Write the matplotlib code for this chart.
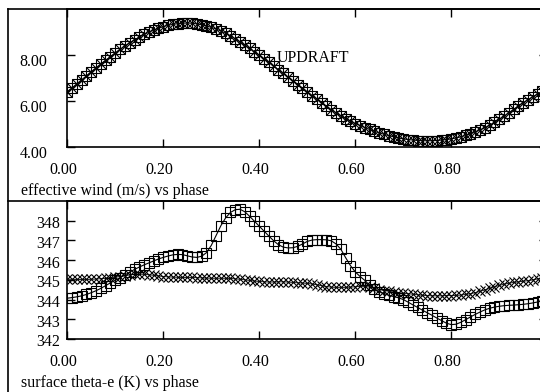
import matplotlib
matplotlib.use("Agg")
import matplotlib.pyplot as plt
from matplotlib.lines import Line2D
from matplotlib.transforms import ScaledTranslation

# phase (0.00 .. 0.99)
phase = [i / 100 for i in range(100)]

# effective wind (m/s), updraft
wind = [6.40, 6.57, 6.74, 6.92, 7.09, 7.27, 7.44, 7.61, 7.77, 7.93,
        8.09, 8.24, 8.39, 8.53, 8.66, 8.78, 8.89, 8.99, 9.08, 9.16,
        9.23, 9.29, 9.33, 9.36, 9.38, 9.39, 9.38, 9.35, 9.31, 9.26,
        9.20, 9.13, 9.04, 8.94, 8.83, 8.70, 8.56, 8.42, 8.28, 8.13,
        7.98, 7.83, 7.67, 7.51, 7.35, 7.19, 7.03, 6.87, 6.71, 6.55,
        6.39, 6.23, 6.07, 5.91, 5.76, 5.61, 5.47, 5.34, 5.22, 5.11,
        5.01, 4.92, 4.83, 4.75, 4.67, 4.60, 4.54, 4.48, 4.43, 4.38,
        4.34, 4.31, 4.29, 4.27, 4.26, 4.26, 4.26, 4.27, 4.29, 4.31,
        4.34, 4.38, 4.43, 4.49, 4.56, 4.64, 4.73, 4.83, 4.94, 5.06,
        5.19, 5.33, 5.48, 5.63, 5.78, 5.92, 6.05, 6.18, 6.30, 6.42]

# surface theta-e (K), square series
theta_sq = [344.07, 344.10, 344.14, 344.19, 344.26, 344.35, 344.45, 344.57, 344.71, 344.85,
            344.98, 345.11, 345.25, 345.39, 345.53, 345.65, 345.76, 345.86, 345.96, 346.06,
            346.14, 346.21, 346.27, 346.29, 346.28, 346.22, 346.16, 346.14, 346.20, 346.38,
            346.75, 347.25, 347.75, 348.15, 348.42, 348.56, 348.58, 348.45, 348.22, 347.97,
            347.72, 347.47, 347.22, 346.98, 346.78, 346.66, 346.62, 346.63, 346.70, 346.82,
            346.95, 347.02, 347.04, 347.04, 347.03, 346.98, 346.82, 346.55, 346.12, 345.72,
            345.40, 345.17, 344.97, 344.72, 344.53, 344.40, 344.30, 344.22, 344.15, 344.09,
            344.00, 343.87, 343.73, 343.60, 343.46, 343.33, 343.20, 343.06, 342.93, 342.80,
            342.73, 342.75, 342.85, 342.98, 343.12, 343.25, 343.37, 343.48, 343.56, 343.62,
            343.66, 343.69, 343.71, 343.72, 343.74, 343.76, 343.79, 343.83, 343.88, 343.93]

# surface theta-e (K), cross series
theta_x = [345.03, 345.03, 345.02, 345.02, 345.02, 345.03, 345.04, 345.06, 345.08, 345.10,
           345.13, 345.17, 345.21, 345.25, 345.28, 345.29, 345.28, 345.26, 345.23, 345.20,
           345.17, 345.15, 345.14, 345.13, 345.12, 345.12, 345.12, 345.11, 345.10, 345.09,
           345.08, 345.08, 345.08, 345.08, 345.07, 345.05, 345.03, 345.00, 344.97, 344.94,
           344.92, 344.90, 344.89, 344.89, 344.90, 344.90, 344.89, 344.87, 344.85, 344.84,
           344.82, 344.79, 344.75, 344.70, 344.66, 344.63, 344.62, 344.62, 344.62, 344.63,
           344.65, 344.67, 344.67, 344.63, 344.57, 344.51, 344.46, 344.42, 344.38, 344.35,
           344.32, 344.30, 344.27, 344.24, 344.22, 344.20, 344.19, 344.19, 344.19, 344.20,
           344.20, 344.21, 344.23, 344.26, 344.30, 344.35, 344.42, 344.49, 344.57, 344.65,
           344.72, 344.78, 344.83, 344.87, 344.90, 344.93, 344.96, 345.00, 345.05, 345.10]

x_ticks = [0.0, 0.2, 0.4, 0.6, 0.8]
x_labels = ["0.00", "0.20", "0.40", "0.60", "0.80"]
wind_ticks = [4, 6, 8]
wind_labels = ["4.00", "6.00", "8.00"]
theta_ticks = [342, 343, 344, 345, 346, 347, 348]

plt.rcParams['font.family'] = ['Liberation Serif', 'DejaVu Serif']
FS = 11.5

W, H = 540, 392
fig = plt.figure(figsize=(W / 100, H / 100), dpi=100)

def fx(px):
    return px / W

def fy(py):
    return 1 - py / H

left, right = 67.3, 547.3
ax1 = fig.add_axes([fx(left), fy(146.7), fx(right - left), (146.7 - 9) / H])
ax2 = fig.add_axes([fx(left), fy(339), fx(right - left), (339 - 201) / H])

# top panel: updraft wind
ax1.plot(phase, wind, color="black", linewidth=0.8,
         marker="s", markersize=7, markerfacecolor="none",
         markeredgecolor="black", markeredgewidth=0.8)
ax1.plot(phase, wind, linestyle="none", marker="x", markersize=6.5,
         markeredgecolor="black", markeredgewidth=0.8)
ax1.text(0.436, 7.87, "UPDRAFT", va="center", ha="left", fontsize=FS)
ax1.set_xlim(0, 1)
ax1.set_ylim(4, 10)
ax1.set_yticks(wind_ticks)
ax1.set_yticklabels(wind_labels)

# bottom panel: surface theta-e
ax2.plot(phase, theta_x, color="black", linewidth=0.6,
         marker="x", markersize=6.5, markeredgecolor="black",
         markeredgewidth=0.8)
ax2.plot(phase, theta_sq, color="black", linewidth=0.8,
         marker="s", markersize=7, markerfacecolor="none",
         markeredgecolor="black", markeredgewidth=0.8)
ax2.set_xlim(0, 1)
ax2.set_ylim(342, 349)
ax2.set_yticks(theta_ticks)

for ax, ypad, ydrop in [(ax1, 14.4, -5), (ax2, 5.3, -1.5)]:
    ax.set_xticks(x_ticks)
    ax.set_xticklabels(x_labels)
    ax.tick_params(direction="in", length=6, width=1.0, top=True, right=True,
                   labelsize=FS)
    ax.tick_params(axis="x", pad=11)
    ax.tick_params(axis="y", pad=ypad)
    for sp in ax.spines.values():
        sp.set_linewidth(1.2)
    for lab in ax.get_xticklabels():
        lab.set_transform(lab.get_transform() +
                          ScaledTranslation(-4 / 100, 0, fig.dpi_scale_trans))
    for lab in ax.get_yticklabels():
        lab.set_transform(lab.get_transform() +
                          ScaledTranslation(0, ydrop / 100, fig.dpi_scale_trans))

# outer frame lines
fig.add_artist(Line2D([fx(8), fx(8)], [fy(9), 0], transform=fig.transFigure,
                      color="black", linewidth=1.2))
fig.add_artist(Line2D([fx(8), 1], [fy(9), fy(9)], transform=fig.transFigure,
                      color="black", linewidth=1.2))
fig.add_artist(Line2D([fx(8), 1], [fy(201), fy(201)], transform=fig.transFigure,
                      color="black", linewidth=1.2))

fig.text(fx(20.7), fy(191), "effective wind (m/s) vs phase", va="center",
         ha="left", fontsize=FS)
fig.text(fx(20.7), fy(383), "surface theta-e (K) vs phase", va="center",
         ha="left", fontsize=FS)

fig.savefig("out.png", dpi=100)
